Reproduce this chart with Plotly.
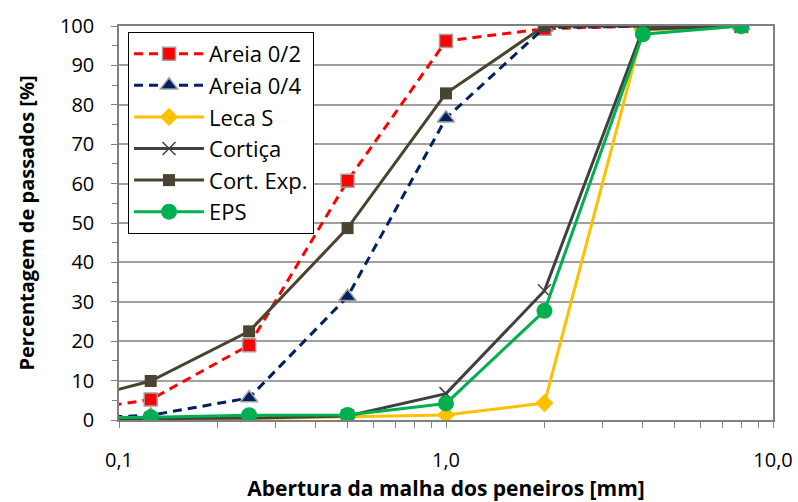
import plotly.graph_objects as go

sieves = [0.063, 0.125, 0.25, 0.5, 1.0, 2.0, 4.0, 8.0]
areia_02 = [1.5, 5.2, 19.0, 60.7, 96.2, 99.3, 100.0, 100.0]
areia_04 = [0.2, 1.2, 5.6, 31.3, 76.6, 99.6, 100.0, 100.0]
leca_s = [0.2, 0.3, 0.3, 0.8, 1.3, 4.3, 99.0, 100.0]
cortica = [0.2, 0.3, 0.5, 1.0, 6.7, 32.8, 99.2, 100.0]
cort_exp = [3.5, 9.9, 22.5, 48.7, 82.9, 100.0, 100.0, 100.0]
eps = [0.5, 0.7, 1.2, 1.3, 4.2, 27.7, 97.9, 100.0]

series = [
    ("Areia 0/2", areia_02, "#FF0000", "dash", "square", 13, "#FF0000", "#A0A0A0", 1.5),
    ("Areia 0/4", areia_04, "#002060", "dash", "triangle-up", 15, "#002060", "#A0A0A0", 1.5),
    ("Leca S", leca_s, "#FFC000", "solid", "diamond", 14, "#FFC000", "#FFC000", 0),
    ("Cortiça", cortica, "#404040", "solid", "x-thin", 13, "#404040", "#404040", 1.5),
    ("Cort. Exp.", cort_exp, "#4A4330", "solid", "square", 12, "#4A4330", "#4A4330", 0),
    ("EPS", eps, "#00B050", "solid", "circle", 16, "#00B050", "#00B050", 0),
]

fig = go.Figure()
for name, vals, col, dash, sym, size, mcol, mline, mlw in series:
    fig.add_trace(go.Scatter(
        x=sieves, y=vals, name=name, mode="lines+markers",
        line=dict(color=col, width=3, dash=("9px,6px" if dash == "dash" else "solid")),
        marker=dict(symbol=sym, size=size, color=mcol,
                    line=dict(color=mline, width=mlw)),
        cliponaxis=True,
    ))

font = "'Open Sans', sans-serif"
fig.update_layout(
    width=798, height=502,
    margin=dict(l=119, r=25, t=26, b=82),
    paper_bgcolor="white", plot_bgcolor="white",
    font=dict(family=font, size=20, color="black"),
    showlegend=True,
    legend=dict(x=0.0138, y=0.985, xanchor="left", yanchor="top",
                bgcolor="white", bordercolor="black", borderwidth=1,
                font=dict(size=22), itemwidth=70, tracegroupgap=0),
    xaxis=dict(
        type="log", range=[-1, 1], automargin=False,
        tickvals=[0.1, 1, 10], ticktext=["0,1", "1,0", "10,0"],
        ticks="outside", ticklen=6, tickcolor="#808080",
        ticklabelstandoff=15,
        showline=True, linecolor="#808080", linewidth=1.5, mirror=True,
        showgrid=False, zeroline=False,
        minor=dict(ticks="outside", ticklen=6, tickcolor="#808080",
                   tickvals=[0.2, 0.3, 0.4, 0.5, 0.6, 0.7, 0.8, 0.9,
                             2, 3, 4, 5, 6, 7, 8, 9], showgrid=False),
        title=dict(text="<b>Abertura da malha dos peneiros [mm]</b>", standoff=14,
                   font=dict(size=21)),
        tickfont=dict(size=20),
    ),
    yaxis=dict(
        range=[0, 100], dtick=10, automargin=False,
        ticks="outside", ticklen=6, tickcolor="#808080",
        ticklabelstandoff=13,
        showline=True, linecolor="#808080", linewidth=1.5, mirror=True,
        showgrid=True, gridcolor="#A0A0A0", gridwidth=1.5, zeroline=False,
        minor=dict(ticks="outside", ticklen=5, tickcolor="#808080", dtick=5, showgrid=False),
        title=dict(text="<b>Percentagem de passados [%]</b>", standoff=20,
                   font=dict(size=20)),
        tickfont=dict(size=20),
    ),
)

fig.write_html("out.html")
